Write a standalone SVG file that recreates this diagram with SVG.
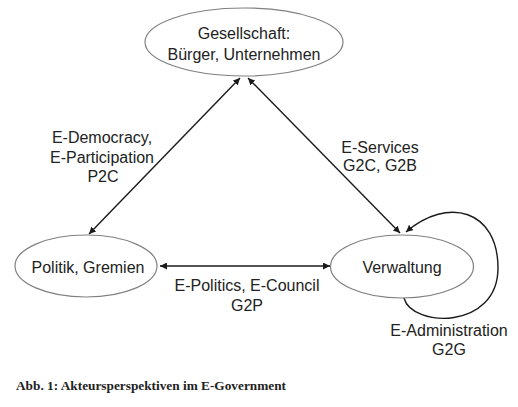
<svg xmlns="http://www.w3.org/2000/svg" width="518" height="407" viewBox="0 0 518 407">
<style>
.node{fill:#fff;stroke:#808080;stroke-width:1.2}
.t{font-family:"Liberation Sans",Arial,sans-serif;font-size:16px;fill:#222;text-anchor:middle}
.c{fill:none;stroke:#1a1a1a;stroke-width:1.4}
.cap{font-family:"Liberation Serif","Times New Roman",serif;font-size:13.3px;font-weight:bold;fill:#222}
</style>
<defs>
<marker id="ah" viewBox="0 0 10 10" refX="10" refY="5" markerWidth="7" markerHeight="7" orient="auto-start-reverse" markerUnits="userSpaceOnUse">
<path d="M0,0 L10,5 L0,10 z" fill="#1a1a1a"/>
</marker>
</defs>
<rect width="518" height="407" fill="#fff"/>
<g id="connectors">
<line class="c" x1="240" y1="78" x2="89" y2="234" marker-start="url(#ah)" marker-end="url(#ah)"/>
<line class="c" x1="248" y1="78" x2="400" y2="233" marker-start="url(#ah)" marker-end="url(#ah)"/>
<line class="c" x1="160" y1="266" x2="330" y2="266" marker-start="url(#ah)" marker-end="url(#ah)"/>
<path class="c" d="M404,298 C412,328 498,330 498,268 C498,210 448,196 406,232" marker-end="url(#ah)"/>
<text class="t" x="102" y="143">E-Democracy,</text>
<text class="t" x="102" y="162.5">E-Participation</text>
<text class="t" x="103" y="182">P2C</text>
<text class="t" x="380" y="153">E-Services</text>
<text class="t" x="380" y="171">G2C, G2B</text>
<text class="t" x="247" y="291">E-Politics, E-Council</text>
<text class="t" x="247" y="311">G2P</text>
<text class="t" x="449" y="336">E-Administration</text>
<text class="t" x="449" y="355">G2G</text>
</g>
<g id="gesellschaft">
<ellipse class="node" cx="244" cy="42" rx="99" ry="34"/>
<text class="t" x="244" y="39">Gesellschaft:</text>
<text class="t" x="244" y="60">Bürger, Unternehmen</text>
</g>
<g id="politik">
<ellipse class="node" cx="86" cy="266" rx="71" ry="31"/>
<text class="t" x="88" y="273">Politik, Gremien</text>
</g>
<g id="verwaltung">
<ellipse class="node" cx="402" cy="266.5" rx="71.5" ry="31.5"/>
<text class="t" x="402" y="273">Verwaltung</text>
</g>
<text class="cap" x="16" y="390">Abb. 1: Akteursperspektiven im E-Government</text>
</svg>
